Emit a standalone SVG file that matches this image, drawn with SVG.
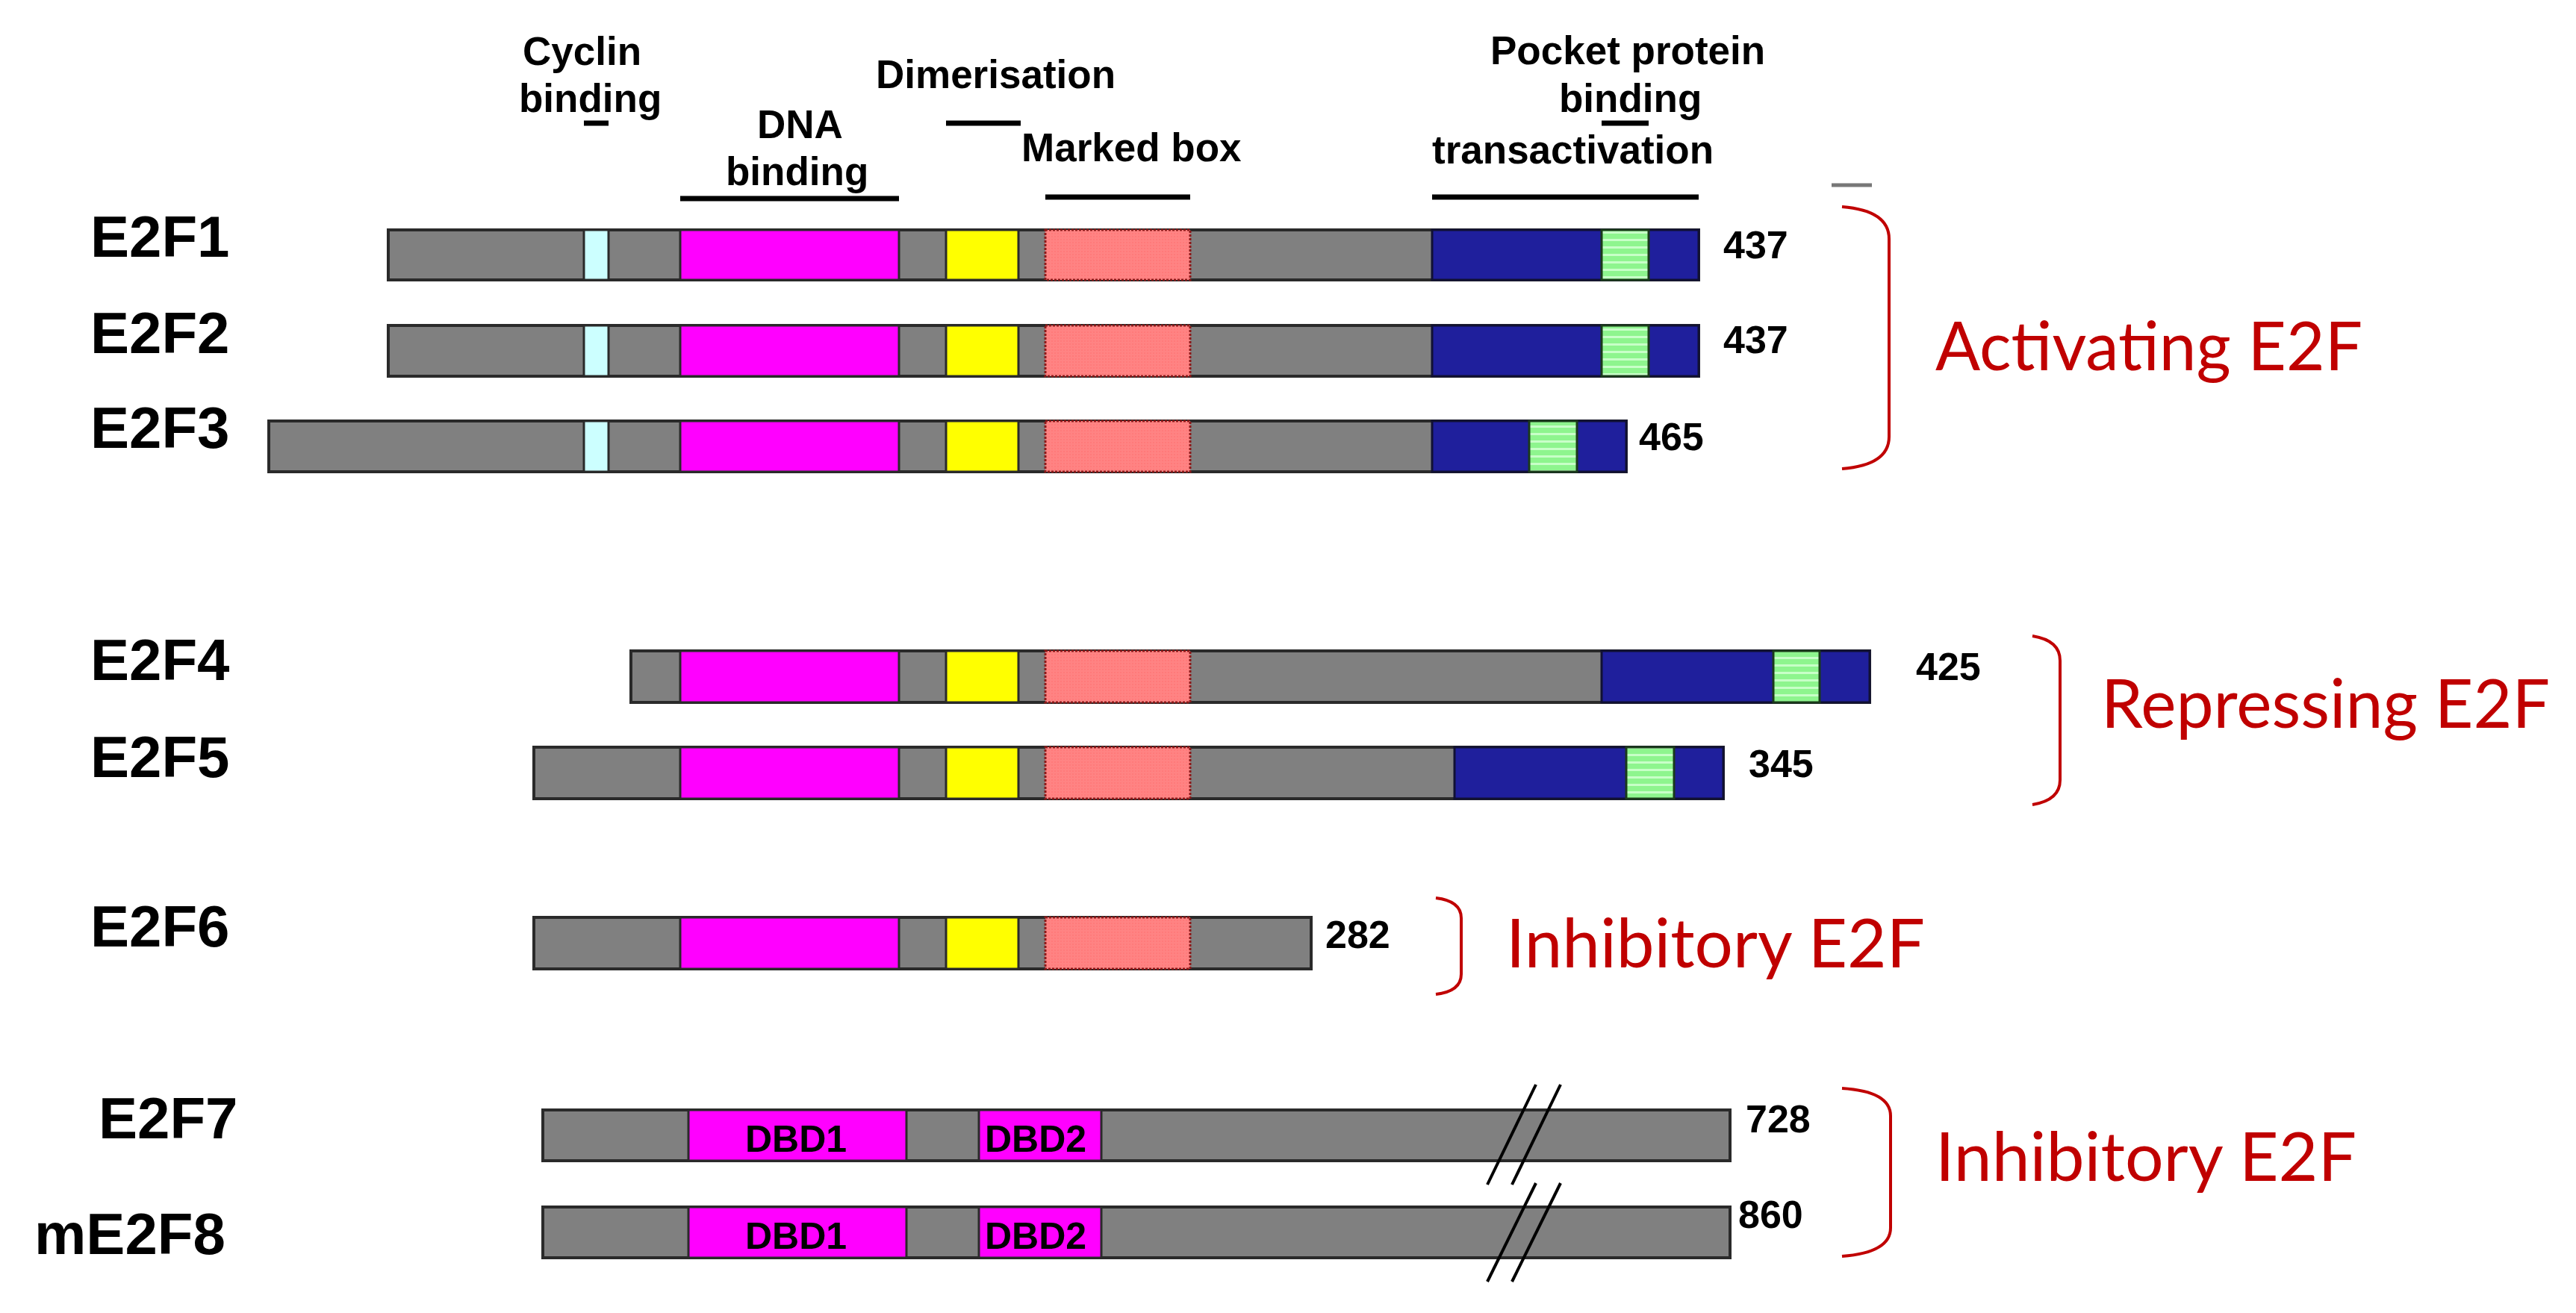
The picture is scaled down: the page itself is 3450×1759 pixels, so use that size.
<svg xmlns="http://www.w3.org/2000/svg" width="3450" height="1759" viewBox="0 0 3450 1759">
<defs>
<pattern id="stripes" width="12" height="10" patternUnits="userSpaceOnUse">
<rect width="12" height="10" fill="#8ef58e"/>
<rect y="0" width="12" height="3" fill="#c8ffc8"/>
</pattern>
<pattern id="dots" width="4" height="4" patternUnits="userSpaceOnUse">
<rect width="4" height="4" fill="#ff8383"/>
<rect width="2" height="2" fill="#ff7a7a"/>
</pattern>
</defs>
<style>
.bar{fill:#808080;stroke:#2a2a2a;stroke-width:4}
.cyc{fill:#ccffff;stroke:#2a2a2a;stroke-width:3}
.dna{fill:#ff00ff;stroke:#2a2a2a;stroke-width:3}
.dim{fill:#ffff00;stroke:#2a2a2a;stroke-width:3}
.mb{fill:url(#dots);stroke:#8b1a1a;stroke-width:3;stroke-dasharray:3 2}
.ta{fill:#1f1f9c;stroke:#111133;stroke-width:3}
.pp{fill:url(#stripes);stroke:#1a3a1a;stroke-width:3}
.name{font-family:"Liberation Sans",Arial,sans-serif;font-weight:bold;font-size:78px;fill:#000}
.num{font-family:"Liberation Sans",Arial,sans-serif;font-weight:bold;font-size:52px;fill:#000}
.dom{font-family:"Liberation Sans",Arial,sans-serif;font-weight:bold;font-size:53px;fill:#000}
.dbd{font-family:"Liberation Sans",Arial,sans-serif;font-weight:bold;font-size:50px;fill:#000}
.grp{font-family:Lato,"Open Sans",sans-serif;font-size:92px;fill:#c00000}
.uline{stroke:#000;stroke-width:7}
.brk{fill:none;stroke:#c00000;stroke-width:4}
.cut{stroke:#000;stroke-width:4}
</style>

<g id="domain-labels">
<text class="dom" x="700" y="87">Cyclin</text>
<text class="dom" x="695" y="150">binding</text>
<text class="dom" x="1014" y="185">DNA</text>
<text class="dom" x="972" y="248">binding</text>
<text class="dom" x="1173" y="118">Dimerisation</text>
<text class="dom" x="1368" y="216">Marked box</text>
<text class="dom" x="1996" y="86">Pocket protein</text>
<text class="dom" x="2088" y="150">binding</text>
<text class="dom" x="1918" y="219">transactivation</text>
<line class="uline" x1="782" y1="165" x2="815" y2="165"/>
<line class="uline" x1="911" y1="266" x2="1204" y2="266"/>
<line class="uline" x1="1267" y1="165" x2="1367" y2="165"/>
<line class="uline" x1="1400" y1="264" x2="1594" y2="264"/>
<line class="uline" x1="1918" y1="264" x2="2275" y2="264"/>
<line class="uline" x1="2145" y1="165" x2="2208" y2="165"/>
<line x1="2453" y1="248" x2="2507" y2="248" stroke="#777" stroke-width="5"/>
</g>

<g id="E2F1">
<text class="name" x="121" y="344">E2F1</text>
<rect class="bar" x="520" y="308" width="1755" height="67"/>
<rect class="cyc" x="782" y="308" width="33" height="67"/>
<rect class="dna" x="911" y="308" width="293" height="67"/>
<rect class="dim" x="1267" y="308" width="97" height="67"/>
<rect class="mb" x="1400" y="308" width="194" height="67"/>
<rect class="ta" x="1918" y="308" width="357" height="67"/>
<rect class="pp" x="2145" y="308" width="63" height="67"/>
<text class="num" x="2308" y="346">437</text>
</g>

<g id="E2F2">
<text class="name" x="121" y="473">E2F2</text>
<rect class="bar" x="520" y="436" width="1755" height="68"/>
<rect class="cyc" x="782" y="436" width="33" height="68"/>
<rect class="dna" x="911" y="436" width="293" height="68"/>
<rect class="dim" x="1267" y="436" width="97" height="68"/>
<rect class="mb" x="1400" y="436" width="194" height="68"/>
<rect class="ta" x="1918" y="436" width="357" height="68"/>
<rect class="pp" x="2145" y="436" width="63" height="68"/>
<text class="num" x="2308" y="473">437</text>
</g>

<g id="E2F3">
<text class="name" x="121" y="600">E2F3</text>
<rect class="bar" x="360" y="564" width="1818" height="68"/>
<rect class="cyc" x="782" y="564" width="33" height="68"/>
<rect class="dna" x="911" y="564" width="293" height="68"/>
<rect class="dim" x="1267" y="564" width="97" height="68"/>
<rect class="mb" x="1400" y="564" width="194" height="68"/>
<rect class="ta" x="1918" y="564" width="260" height="68"/>
<rect class="pp" x="2048" y="564" width="64" height="68"/>
<text class="num" x="2195" y="603">465</text>
</g>

<g id="E2F4">
<text class="name" x="121" y="911">E2F4</text>
<rect class="bar" x="845" y="872" width="1659" height="69"/>
<rect class="dna" x="911" y="872" width="293" height="69"/>
<rect class="dim" x="1267" y="872" width="97" height="69"/>
<rect class="mb" x="1400" y="872" width="194" height="69"/>
<rect class="ta" x="2145" y="872" width="359" height="69"/>
<rect class="pp" x="2375" y="872" width="62" height="69"/>
<text class="num" x="2566" y="911">425</text>
</g>

<g id="E2F5">
<text class="name" x="121" y="1041">E2F5</text>
<rect class="bar" x="715" y="1001" width="1593" height="69"/>
<rect class="dna" x="911" y="1001" width="293" height="69"/>
<rect class="dim" x="1267" y="1001" width="97" height="69"/>
<rect class="mb" x="1400" y="1001" width="194" height="69"/>
<rect class="ta" x="1948" y="1001" width="360" height="69"/>
<rect class="pp" x="2178" y="1001" width="64" height="69"/>
<text class="num" x="2342" y="1041">345</text>
</g>

<g id="E2F6">
<text class="name" x="121" y="1268">E2F6</text>
<rect class="bar" x="715" y="1229" width="1041" height="69"/>
<rect class="dna" x="911" y="1229" width="293" height="69"/>
<rect class="dim" x="1267" y="1229" width="97" height="69"/>
<rect class="mb" x="1400" y="1229" width="194" height="69"/>
<text class="num" x="1775" y="1270">282</text>
</g>

<g id="E2F7">
<text class="name" x="132" y="1525">E2F7</text>
<rect class="bar" x="727" y="1487" width="1590" height="68"/>
<rect class="dna" x="922" y="1487" width="292" height="68"/>
<rect class="dna" x="1311" y="1487" width="164" height="68"/>
<text class="dbd" x="998" y="1543">DBD1</text>
<text class="dbd" x="1319" y="1543">DBD2</text>
<line class="cut" x1="1992" y1="1587" x2="2057" y2="1453"/>
<line class="cut" x1="2025" y1="1587" x2="2090" y2="1453"/>
<text class="num" x="2338" y="1517">728</text>
</g>

<g id="mE2F8">
<text class="name" x="46" y="1680">mE2F8</text>
<rect class="bar" x="727" y="1617" width="1590" height="68"/>
<rect class="dna" x="922" y="1617" width="292" height="68"/>
<rect class="dna" x="1311" y="1617" width="164" height="68"/>
<text class="dbd" x="998" y="1673">DBD1</text>
<text class="dbd" x="1319" y="1673">DBD2</text>
<line class="cut" x1="1992" y1="1717" x2="2057" y2="1585"/>
<line class="cut" x1="2025" y1="1717" x2="2090" y2="1585"/>
<text class="num" x="2328" y="1645">860</text>
</g>

<g id="connectors">
<path class="brk" d="M2467,277 Q2530,282 2530,320 L2530,585 Q2530,623 2467,628"/>
<path class="brk" d="M2722,852 Q2759,858 2759,885 L2759,1045 Q2759,1072 2722,1078"/>
<path class="brk" d="M1923,1203 Q1957,1207 1957,1230 L1957,1305 Q1957,1328 1923,1332"/>
<path class="brk" d="M2467,1458 Q2532,1462 2532,1495 L2532,1645 Q2532,1678 2467,1683"/>
</g>

<g id="group-labels">
<text class="grp" x="2592" y="496" textLength="572" lengthAdjust="spacingAndGlyphs">Activating E2F</text>
<text class="grp" x="2814" y="975" textLength="601" lengthAdjust="spacingAndGlyphs">Repressing E2F</text>
<text class="grp" x="2017" y="1296" textLength="561" lengthAdjust="spacingAndGlyphs">Inhibitory E2F</text>
<text class="grp" x="2592" y="1582" textLength="564" lengthAdjust="spacingAndGlyphs">Inhibitory E2F</text>
</g>
</svg>
